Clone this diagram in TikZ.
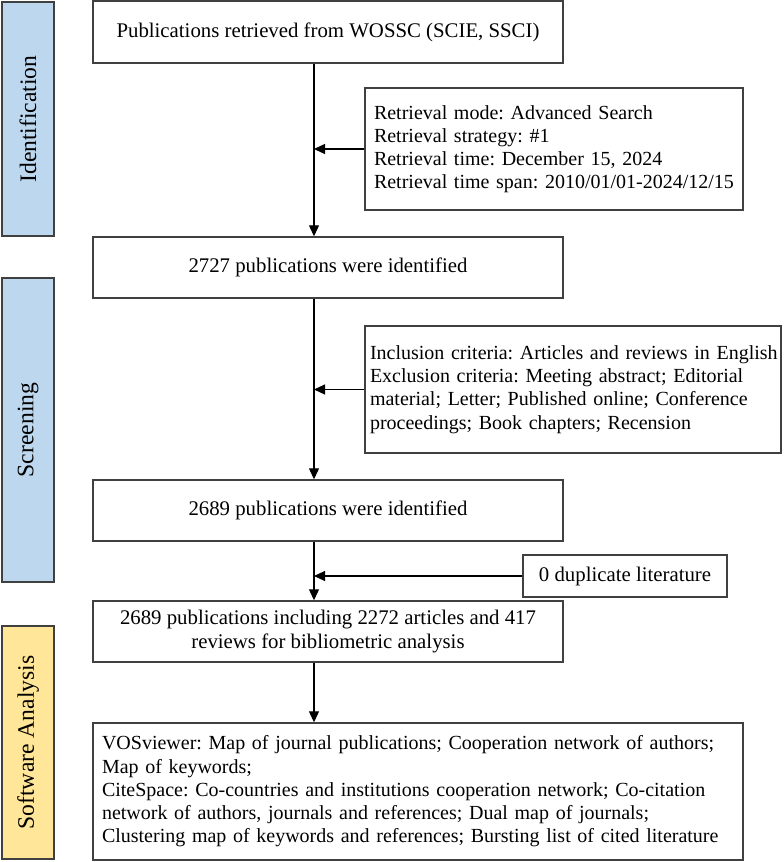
\documentclass[tikz,border=0pt]{standalone}
\usepackage{fontspec}
\setmainfont{Liberation Serif}
\usepackage{tikz}
\usetikzlibrary{arrows.meta, positioning, calc}
\definecolor{colStage}{RGB}{189, 215, 238}
\definecolor{colSoft}{RGB}{255, 230, 153}
\definecolor{colEdge}{RGB}{64, 64, 64}

\tikzset{
    flowbox/.style={draw=colEdge, line width=0.7pt, inner xsep=6pt, inner ysep=0pt, align=center},
    infobox/.style={flowbox, align=left, inner xsep=4.5pt, font=\fontsize{10}{11.6}\selectfont},
    stagebar/.style={draw=colEdge, line width=0.7pt, rotate=90, minimum height=26pt, inner sep=0pt, font=\fontsize{11.8}{14}\selectfont},
    flowarrow/.style={line width=0.55pt, -{Triangle[length=5.5pt, width=5pt]}}
}

\begin{document}
\frenchspacing
\begin{tikzpicture}[x=0.5pt, y=-0.5pt, every node/.style={font=\fontsize{10.4}{11.6}\selectfont}]
    \useasboundingbox (0, 0) rectangle (783, 862);

    % --- Stage bars ---
    \node[stagebar, fill=colStage, minimum width=117pt] (barId) at (28, 119) {Identification};
    \node[stagebar, fill=colStage, minimum width=152pt] (barScr) at (28, 430) {Screening};
    \node[stagebar, fill=colSoft, minimum width=116.5pt] (barSoft) at (28, 742.5) {Software Analysis};

    % --- Main boxes ---
    \node[flowbox, minimum width=235pt, minimum height=31pt] (retrieved) at (328, 32) {Publications retrieved from WOSSC (SCIE, SSCI)};
    \node[flowbox, minimum width=235pt, minimum height=30.5pt] (ident1) at (328, 267.5) {2727 publications were identified};
    \node[flowbox, minimum width=235pt, minimum height=30.5pt] (ident2) at (328, 510.5) {2689 publications were identified};
    \node[flowbox, minimum width=235pt, minimum height=30.5pt] (final) at (328, 631.5) {2689 publications including 2272 articles and 417\\reviews for bibliometric analysis};
    \node[infobox, text width=316pt, minimum height=68.5pt] (software) at (418, 791.5) {VOSviewer: Map of journal publications; Cooperation network of authors;\\Map of keywords;\\CiteSpace: Co-countries and institutions cooperation network; Co-citation\\network of authors, journals and references; Dual map of journals;\\Clustering map of keywords and references; Bursting list of cited literature};

    % --- Side boxes ---
    \node[infobox, text width=180pt, minimum height=61pt] (strategy) at (554, 149) {Retrieval mode: Advanced Search\\Retrieval strategy: \#1\\Retrieval time: December 15, 2024\\Retrieval time span: 2010/01/01-2024/12/15};
    \node[infobox, inner xsep=2.5pt, text width=203pt, minimum height=63.5pt] (criteria) at (573, 389.5) {\mbox{Inclusion criteria: Articles and reviews in English}\\Exclusion criteria: Meeting abstract; Editorial\\material; Letter; Published online; Conference\\proceedings; Book chapters; Recension};
    \node[flowbox, minimum width=102pt, minimum height=21pt] (dup) at (625, 576) {0 duplicate literature};

    % main line
    \coordinate (spine) at (314, 0);

    % --- Arrows ---
    \draw[flowarrow] (retrieved.south -| spine) -- (ident1.north -| spine);
    \draw[flowarrow] (ident1.south -| spine) -- (ident2.north -| spine);
    \draw[flowarrow] (ident2.south -| spine) -- (final.north -| spine);
    \draw[flowarrow] (final.south -| spine) -- (software.north -| spine);
    \draw[flowarrow] (strategy.west) -- (strategy.west -| spine);
    \draw[flowarrow] (criteria.west) -- (criteria.west -| spine);
    \draw[flowarrow] (dup.west) -- (dup.west -| spine);

\end{tikzpicture}
\end{document}
